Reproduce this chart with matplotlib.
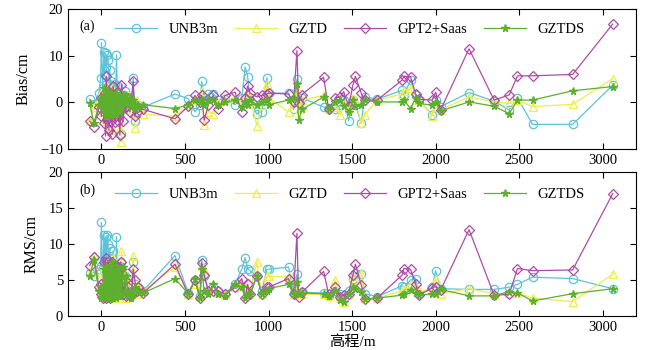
import matplotlib
matplotlib.use("Agg")
import matplotlib.pyplot as plt

plt.rcParams['font.family'] = ['Liberation Serif', 'Noto Sans CJK SC']
plt.rcParams['mathtext.fontset'] = 'stix'

# station heights (m)
height = [-70, -45, -15, -5, 0, 8, 15, 20, 25, 30, 35, 40, 45, 50, 55, 60, 65, 70, 75, 80,
          85, 90, 95, 100, 105, 110, 115, 120, 130, 140, 150, 160, 170, 180, 190, 200, 210, 220, 250,
          440, 520, 560, 590, 600, 615, 640, 670, 700, 740, 800, 840, 860, 875, 890, 930, 960, 990,
          1000, 1120, 1150, 1170, 1180, 1200, 1330, 1360, 1400, 1430, 1450, 1480, 1505, 1520, 1555,
          1575, 1650, 1800, 1810, 1850, 1880, 1900, 1980, 2000, 2030, 2200, 2350, 2440, 2490, 2580,
          2820, 3060]

# ---- bias (cm) ----
unb3m_bias = [0.7, -0.4, 2.0, 5.2, 12.8, 3.0, 10.8, 6.0, 10.5, 7.5, 10.2, 9.0, 4.0, 7.0, 3.5, 4.5, 1.0, 3.0, 0.5, 4.0,
              -1.0, 10.2, 2.0, 3.5, -2.0, 1.0, -1.5, -6.8, 1.5, 2.5, -1.0, 0.5, 1.2, -0.5, 5.2, -4.0, -1.0, -0.5, -1.0,
              1.8, 0.8, -2.0, -0.5, 4.5, 0.5, 1.8, 1.9, 0.5, 0.8, -0.5, 1.0, 7.6, 5.5, 0.5, -2.5, -2.0, 5.3,
              2.0, 2.0, -1.5, 5.0, 0.5, 1.0, -1.0, -1.2, -1.5, -0.5, 0.5, -3.9, 0.5, -0.5, -4.5,
              1.2, 0.7, 2.6, 1.5, 4.8, 1.5, 0.5, -2.7, 0.5, -0.9, 2.1, 0.3, -1.6, 1.0, -4.7,
              -4.7, 3.7]
gztd_bias = [-4.0, -1.0, 0.5, 1.0, 2.0, -2.0, 3.0, -4.0, 2.5, -1.0, 3.5, -5.0, 2.0, -3.0, 1.0, -2.5, 3.0, -6.0, 1.5, -1.0,
             2.5, -3.0, 1.0, -2.0, 0.5, -5.5, -1.0, -8.5, 1.0, 0.5, -1.5, 1.5, 0.0, -1.0, 0.5, -5.5, 0.5, -1.0, -2.5,
             -3.0, -0.5, 0.5, 0.5, 2.5, -4.8, -2.0, -2.5, 0.0, 0.5, 1.0, 0.0, 1.5, 2.0, 1.0, -5.0, -0.5, 4.0,
             1.0, -2.0, 0.0, 3.0, -1.5, 0.5, 1.5, -1.5, -1.0, -2.7, 0.0, -1.5, 1.0, 0.5, -4.5,
             -2.7, 0.5, 1.8, 2.5, 3.0, 0.5, 0.5, -2.9, -1.0, -1.6, 1.2, 0.1, -0.2, 0.5, -0.9,
             -0.4, 5.1]
gpt2_bias = [-4.0, -5.3, -1.0, 1.0, -3.0, 0.5, -4.5, 2.0, -7.2, 5.6, -3.5, 1.5, -6.0, 2.0, -4.0, 0.5, -6.8, 3.5, -2.0, -4.2,
             1.0, -3.0, 2.0, -4.0, 0.5, -7.0, -1.5, 3.8, -4.0, 0.0, -1.0, 1.0, -2.0, 0.5, 4.5, -3.0, -2.0, -1.0, -1.5,
             -3.5, -0.8, 1.5, 0.0, 1.5, -3.8, -0.5, 1.5, -1.5, 1.5, 2.2, -2.0, 1.0, 3.5, 2.0, 1.2, 1.5, 1.8,
             2.0, 1.8, 0.0, 11.1, -0.2, 1.7, 5.4, -1.5, 1.0, 1.2, 2.3, -0.8, 3.7, 5.6, 2.0,
             0.5, 0.5, 4.8, 5.6, 5.5, 1.8, 0.7, 0.5, 2.2, -1.6, 11.5, 0.5, 1.6, 5.7, 5.7,
             6.0, 16.8]
gztds_bias = [-0.2, -4.5, -0.5, 0.5, 1.0, -1.5, 3.0, -2.0, 1.5, -3.0, 2.5, -2.0, 1.0, -1.5, 2.0, -3.0, 0.5, -2.0, 1.5, -1.0,
              2.0, -2.5, 0.5, -1.5, 1.0, -2.0, 0.5, -1.0, 1.5, 0.0, 1.5, -0.5, 1.0, -1.0, 0.5, -1.5, -0.5, -1.0, -0.5,
              -1.3, -0.5, 0.5, 0.0, 0.5, -0.5, 0.5, 0.5, -0.5, 0.0, 0.5, -1.0, 0.0, -0.5, 0.5, -0.5, 0.0, 0.5,
              -0.5, 0.5, 1.0, 4.0, -3.8, -1.5, 1.2, -1.5, 0.0, 0.5, -0.8, -2.0, 0.5, -0.8, -0.6,
              0.5, 0.1, 0.1, 0.5, -1.3, 0.9, -0.2, -0.6, 0.0, -1.8, 0.1, -0.8, -2.4, 0.5, 0.5,
              2.5, 3.4]

# ---- RMS (cm) ----
unb3m_rms = [6.0, 5.5, 6.5, 7.0, 13.0, 4.0, 11.2, 5.0, 11.0, 8.0, 11.2, 10.0, 6.0, 9.5, 5.0, 8.0, 4.0, 9.0, 4.5, 7.0,
             3.5, 11.0, 4.0, 6.5, 3.0, 7.0, 3.5, 7.5, 4.0, 5.5, 3.0, 6.0, 3.0, 3.5, 7.5, 4.5, 3.5, 4.0, 3.5,
             8.4, 3.2, 5.0, 2.8, 7.8, 5.5, 3.5, 4.0, 3.5, 3.0, 4.5, 6.5, 8.1, 6.6, 6.3, 5.6, 3.5, 6.5,
             6.5, 6.8, 3.2, 5.8, 3.0, 3.3, 3.2, 2.8, 3.5, 3.0, 2.5, 3.5, 5.2, 6.0, 5.9,
             3.1, 2.7, 4.2, 4.0, 5.0, 5.2, 3.0, 4.0, 6.3, 3.8, 3.7, 3.7, 4.0, 4.4, 5.4,
             5.2, 3.8]
gztd_rms = [6.0, 8.5, 4.0, 3.0, 6.0, 3.0, 7.0, 3.5, 7.5, 3.0, 6.0, 7.5, 3.0, 6.5, 2.5, 7.0, 3.5, 8.0, 3.0, 6.0,
            3.5, 7.0, 3.0, 6.0, 2.5, 7.0, 3.0, 9.0, 3.5, 6.0, 2.5, 5.0, 3.0, 3.5, 8.3, 4.0, 3.0, 4.5, 3.5,
            6.8, 3.0, 4.5, 2.8, 7.0, 6.5, 3.5, 4.0, 3.2, 3.0, 4.0, 4.5, 4.0, 3.0, 3.5, 7.5, 3.0, 5.5,
            5.5, 5.5, 3.0, 4.0, 3.0, 3.0, 3.0, 2.8, 5.0, 2.5, 1.9, 3.0, 5.5, 5.0, 6.0,
            2.5, 2.5, 3.5, 3.8, 4.5, 4.0, 3.5, 3.5, 5.2, 3.1, 3.8, 3.1, 3.2, 3.2, 2.5,
            2.0, 5.8]
gpt2_rms = [7.0, 8.2, 4.0, 3.0, 4.5, 2.5, 7.5, 3.0, 8.0, 2.5, 7.5, 3.0, 7.0, 2.5, 6.5, 3.0, 7.5, 2.8, 6.5, 3.5,
            7.0, 3.0, 7.0, 3.0, 6.5, 3.0, 7.5, 6.5, 3.0, 5.0, 2.8, 4.0, 3.0, 2.8, 6.5, 5.0, 3.5, 4.0, 3.2,
            7.2, 3.0, 5.0, 2.5, 7.4, 5.7, 3.5, 3.5, 3.5, 3.0, 4.0, 5.2, 2.5, 4.4, 3.0, 5.6, 3.0, 4.0,
            4.0, 5.2, 3.0, 11.5, 2.6, 3.3, 6.2, 3.0, 4.0, 2.7, 2.9, 3.1, 5.7, 7.2, 4.3,
            2.3, 2.5, 5.7, 6.6, 6.5, 4.5, 2.9, 3.9, 4.1, 3.6, 12.0, 2.9, 3.0, 6.6, 6.3,
            6.4, 17.0]
gztds_rms = [5.5, 7.8, 3.5, 2.5, 4.0, 2.5, 6.5, 2.8, 7.0, 2.5, 6.5, 2.5, 6.0, 2.3, 6.5, 2.5, 7.5, 2.5, 6.0, 3.0,
             7.0, 2.5, 6.5, 3.0, 6.0, 2.8, 5.5, 3.0, 6.8, 3.5, 5.5, 2.8, 3.5, 2.5, 3.0, 4.0, 3.5, 3.5, 3.2,
             5.2, 3.1, 5.1, 2.5, 6.5, 3.5, 3.0, 4.5, 3.0, 2.8, 4.5, 4.0, 2.5, 3.0, 3.0, 5.5, 3.0, 3.5,
             3.8, 4.4, 3.0, 4.7, 3.0, 3.2, 3.1, 2.8, 3.5, 2.2, 2.0, 3.0, 4.0, 3.8, 3.4,
             2.3, 2.5, 2.9, 3.0, 3.6, 3.2, 2.9, 3.1, 3.0, 3.7, 2.8, 2.8, 3.4, 3.2, 2.1,
             3.1, 3.8]

labels = ["UNB3m", "GZTD", "GPT2+Saas", "GZTDS"]
colors = ["#5cc3d9", "#eded4f", "#b04aa8", "#5cb02e"]
markers = ["o", "^", "D", "*"]

fig = plt.figure(figsize=(6.64, 3.5), dpi=100)
ax1 = fig.add_axes([0.1024, 0.574, 0.8556, 0.40])
ax2 = fig.add_axes([0.1024, 0.097, 0.8556, 0.4116])


def draw(ax, series, ylim, yticks, ylabel, tag, tag_y, leg_y):
    for vals, lab, c, m in zip(series, labels, colors, markers):
        if m == "*":
            ax.plot(height, vals, color=c, lw=0.9, marker=m, ms=5.5, mfc=c, mec=c, label=lab)
        else:
            ms = 5.5 if m == "D" else 6
            ax.plot(height, vals, color=c, lw=0.9, marker=m, ms=ms, mfc="none", mec=c,
                    mew=0.9, label=lab)
    ax.set_xlim(-200, 3200)
    ax.set_ylim(*ylim)
    ax.set_xticks([0, 500, 1000, 1500, 2000, 2500, 3000])
    ax.set_yticks(yticks)
    ax.tick_params(direction="in", top=True, right=True, labelsize=10.5, length=4)
    ax.set_ylabel(ylabel, fontsize=11.5, labelpad=6)
    ax.text(0.02, tag_y, tag, transform=ax.transAxes, fontsize=10, va="center")
    ax.legend(loc="center left", bbox_to_anchor=(0.083, leg_y), ncol=4, frameon=False,
              fontsize=10.5, handlelength=2.9, columnspacing=1.1, handletextpad=0.8,
              borderaxespad=0, borderpad=0)


draw(ax1, [unb3m_bias, gztd_bias, gpt2_bias, gztds_bias], (-10, 20), [-10, 0, 10, 20],
     "Bias/cm", "(a)", 0.88, 0.857)
draw(ax2, [unb3m_rms, gztd_rms, gpt2_rms, gztds_rms], (0, 20), [0, 5, 10, 15, 20],
     "RMS/cm", "(b)", 0.875, 0.847)
ax2.set_xlabel("高程/m", fontsize=11, labelpad=1)

fig.savefig("out.png", dpi=100)
